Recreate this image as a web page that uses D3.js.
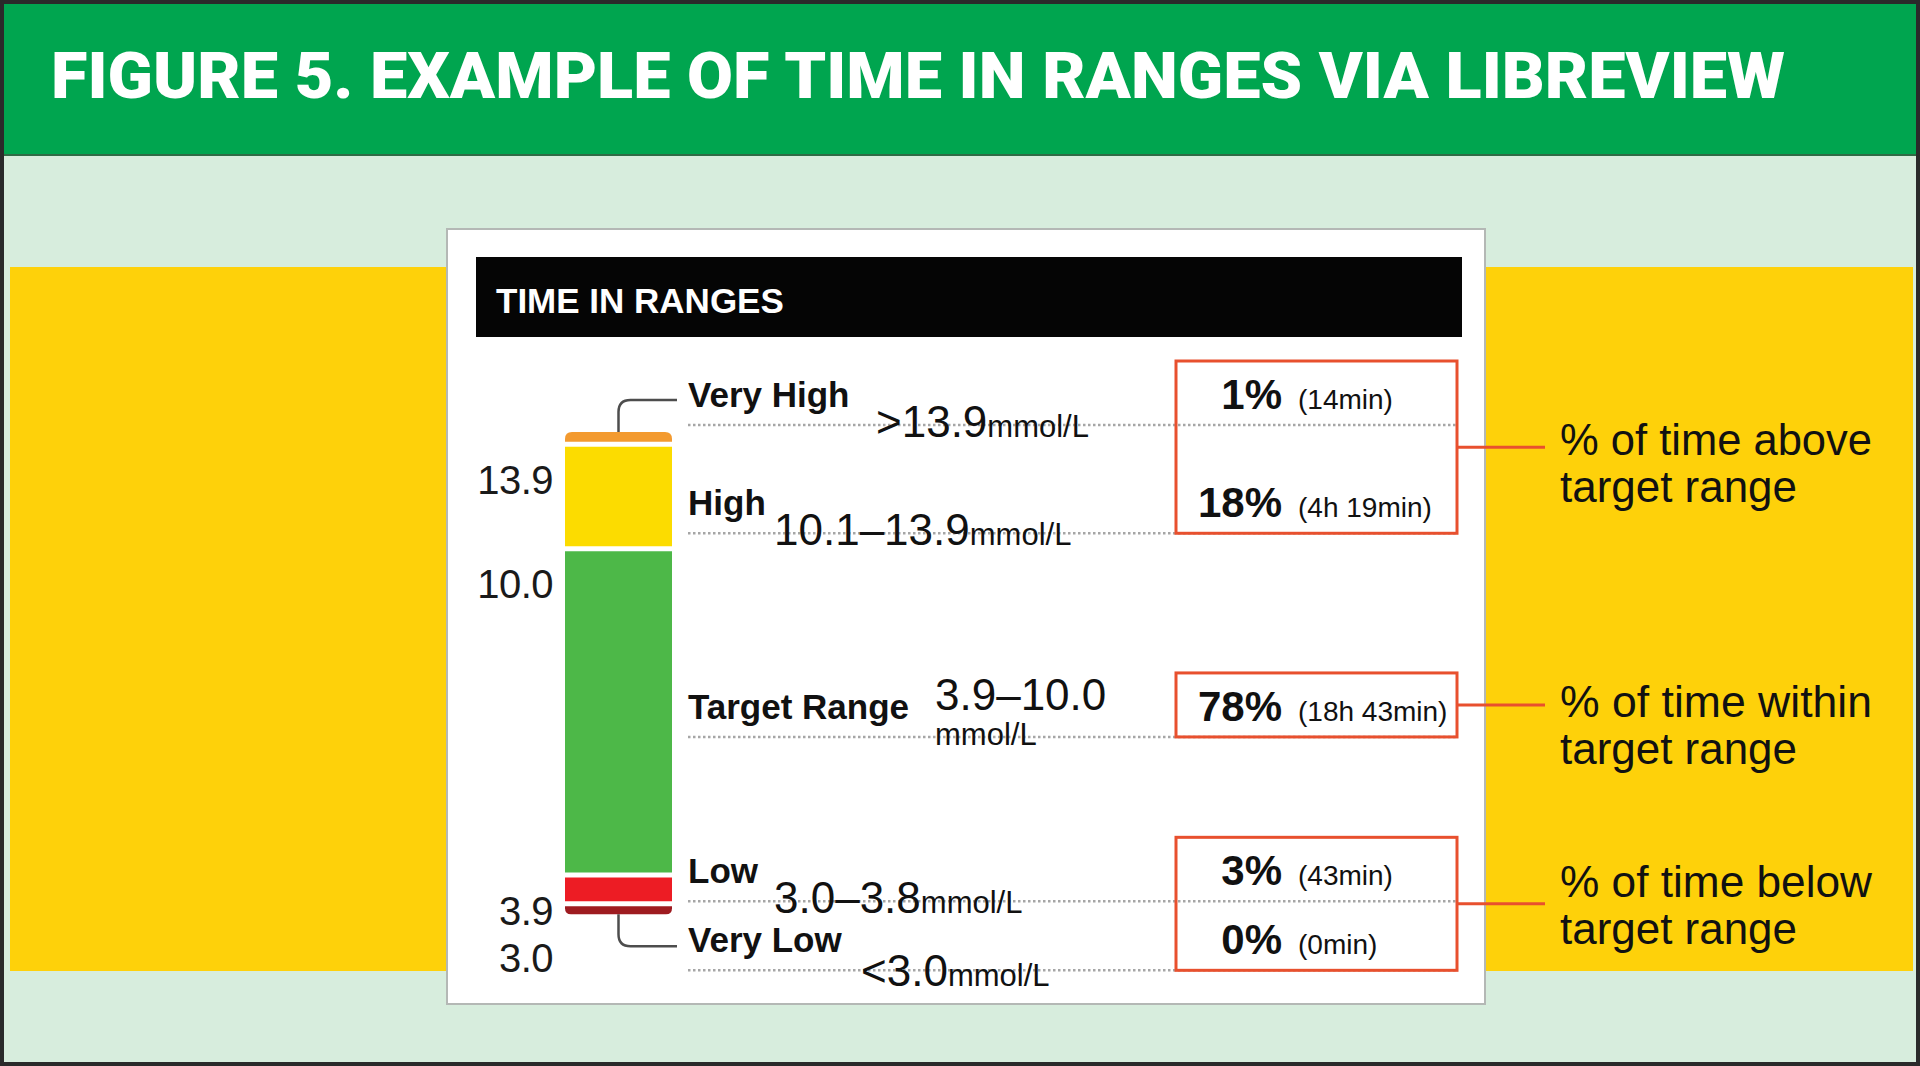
<!DOCTYPE html>
<html>
<head>
<meta charset="utf-8">
<script src="https://cdn.jsdelivr.net/npm/d3@7/dist/d3.min.js"></script>
<style>
  html, body { margin: 0; padding: 0; background: #ffffff; }
  svg { display: block; }
</style>
</head>
<body>
<svg id="chart" width="1920" height="1066"></svg>
<script>
// ---------------- DATA ----------------
const title = "FIGURE 5. EXAMPLE OF TIME IN RANGES VIA LIBREVIEW";
const panelTitle = "TIME IN RANGES";
const categories = ["Very High", "High", "Target Range", "Low", "Very Low"];
const rangeValues = [">13.9", "10.1–13.9", "3.9–10.0", "3.0–3.8", "<3.0"];
const unit = "mmol/L";
const percents = [1, 18, 78, 3, 0];
const durations = ["(14min)", "(4h 19min)", "(18h 43min)", "(43min)", "(0min)"];
const thresholds = ["13.9", "10.0", "3.9", "3.0"];
const groupLabels = [
  ["% of time above", "target range"],
  ["% of time within", "target range"],
  ["% of time below", "target range"]
];
const groupRows = [[0, 1], [2], [3, 4]];

// ---------------- STYLE / LAYOUT ----------------
const segColors = ["#f39a2f", "#fcdc00", "#4db848", "#ed1c24", "#9e1b20"];
const boxColor = "#e8502e";
const W = 1920, H = 1066;
const sans = "'Liberation Sans', Arial, sans-serif";

const svg = d3.select("#chart");

// background layers
svg.append("rect").attr("x", 0).attr("y", 0).attr("width", W).attr("height", H).attr("fill", "#d7eddd");
svg.append("rect").attr("x", 10).attr("y", 267).attr("width", 1903).attr("height", 704).attr("fill", "#fed10a");
svg.append("rect").attr("x", 0).attr("y", 0).attr("width", W).attr("height", 155).attr("fill", "#00a54f");
svg.append("line").attr("x1", 0).attr("x2", W).attr("y1", 155).attr("y2", 155).attr("stroke", "#2f6b45").attr("stroke-width", 2);
svg.append("rect").attr("x", 2).attr("y", 2).attr("width", W - 4).attr("height", H - 4)
  .attr("fill", "none").attr("stroke", "#2a2a2a").attr("stroke-width", 4);

svg.append("text").text(title)
  .attr("x", 51).attr("y", 98)
  .attr("font-family", "Roboto, 'DejaVu Sans', sans-serif").attr("font-weight", 900)
  .attr("font-size", 64).attr("fill", "#ffffff")
  .attr("textLength", 1734).attr("lengthAdjust", "spacingAndGlyphs");

// white panel
svg.append("rect").attr("x", 447).attr("y", 229).attr("width", 1038).attr("height", 775)
  .attr("fill", "#ffffff").attr("stroke", "#b4b8b5").attr("stroke-width", 2);
svg.append("rect").attr("x", 476).attr("y", 257).attr("width", 986).attr("height", 80).attr("fill", "#050505");
svg.append("text").text(panelTitle)
  .attr("x", 496).attr("y", 313)
  .attr("font-family", sans).attr("font-weight", 700).attr("font-size", 35).attr("fill", "#ffffff");

// ---------------- STACKED BAR ----------------
const barX = 565, barW = 107, barTop = 432, gap = 5, minH = 8;
const hScale = d3.scalePow().exponent(0.8).domain([0, 100]).range([0, 392]);
const segs = [];
let cy = barTop;
percents.forEach((p, i) => {
  const h = Math.max(minH, hScale(p));
  segs.push({ i, y0: cy, y1: cy + h, h, mid: cy + h / 2 });
  cy += h + gap;
});
const barBottom = segs[segs.length - 1].y1;
const barCx = barX + barW / 2;

function segPath(s) {
  const x0 = barX, x1 = barX + barW;
  if (s.i === 0) {
    const r = Math.min(7, s.h);
    return `M${x0},${s.y1} L${x0},${s.y0 + r} Q${x0},${s.y0} ${x0 + r},${s.y0} L${x1 - r},${s.y0} Q${x1},${s.y0} ${x1},${s.y0 + r} L${x1},${s.y1} Z`;
  }
  if (s.i === segs.length - 1) {
    const r = Math.min(6, s.h);
    return `M${x0},${s.y0} L${x1},${s.y0} L${x1},${s.y1 - r} Q${x1},${s.y1} ${x1 - r},${s.y1} L${x0 + r},${s.y1} Q${x0},${s.y1} ${x0},${s.y1 - r} Z`;
  }
  return `M${x0},${s.y0} L${x1},${s.y0} L${x1},${s.y1} L${x0},${s.y1} Z`;
}
svg.append("g").selectAll("path").data(segs).join("path")
  .attr("d", segPath).attr("fill", d => segColors[d.i]);

// threshold labels at segment boundaries
let lastY = -Infinity;
thresholds.forEach((t, i) => {
  let y = segs[i].y1 + 52;
  y = Math.max(y, lastY + 47);
  lastY = y;
  svg.append("text").text(t)
    .attr("x", 553).attr("y", y).attr("text-anchor", "end")
    .attr("font-family", sans).attr("font-size", 40).attr("letter-spacing", -0.5).attr("fill", "#1a1a1a");
});

// ---------------- ROWS ----------------
const rowLine = [
  barTop - 7,
  segs[1].y1 - 13,
  segs[2].mid + 25,
  segs[3].y1,
  barBottom + 56
];
const rangeX = [876, 774, 935, 774, 861];
const lineX0 = 688, lineX1 = 1457;
const boxX0 = 1176, boxX1 = 1457;

// dotted lines
svg.append("g").selectAll("line").data(rowLine).join("line")
  .attr("x1", lineX0).attr("x2", lineX1).attr("y1", d => d).attr("y2", d => d)
  .attr("stroke", "#a6a6a6").attr("stroke-width", 2.5).attr("stroke-dasharray", "2.5,2.5");

// connectors from bar ends to outer labels
const conn = d3.path();
conn.moveTo(barCx, barTop);
conn.lineTo(barCx, rowLine[0] - 13);
conn.quadraticCurveTo(barCx, rowLine[0] - 25, barCx + 12, rowLine[0] - 25);
conn.lineTo(677, rowLine[0] - 25);
conn.moveTo(barCx, barBottom);
conn.lineTo(barCx, rowLine[4] - 36);
conn.quadraticCurveTo(barCx, rowLine[4] - 24, barCx + 12, rowLine[4] - 24);
conn.lineTo(677, rowLine[4] - 24);
svg.append("path").attr("d", conn.toString()).attr("fill", "none")
  .attr("stroke", "#4d4d4d").attr("stroke-width", 2.5);

// category labels
svg.append("g").selectAll("text").data(categories).join("text")
  .text(d => d)
  .attr("x", lineX0).attr("y", (d, i) => rowLine[i] - 18)
  .attr("font-family", sans).attr("font-weight", 700).attr("font-size", 35).attr("fill", "#111");

// range values
rangeValues.forEach((r, i) => {
  if (i === 2) {
    svg.append("text").text(r).attr("x", rangeX[i]).attr("y", rowLine[i] - 27)
      .attr("font-family", sans).attr("font-size", 44).attr("fill", "#111");
    svg.append("text").text(unit).attr("x", rangeX[i]).attr("y", rowLine[i] + 8)
      .attr("font-family", sans).attr("font-size", 31).attr("fill", "#111");
  } else {
    const t = svg.append("text").attr("x", rangeX[i]).attr("y", rowLine[i] + (i === 4 ? 16 : 12))
      .attr("font-family", sans).attr("fill", "#111");
    t.append("tspan").text(r).attr("font-size", 44);
    t.append("tspan").text(unit).attr("font-size", 31);
  }
});

// percentages and durations
svg.append("g").selectAll("text").data(percents).join("text")
  .text(d => d + "%")
  .attr("x", 1282).attr("y", (d, i) => rowLine[i] - 16).attr("text-anchor", "end")
  .attr("font-family", sans).attr("font-weight", 700).attr("font-size", 42).attr("fill", "#111");
svg.append("g").selectAll("text").data(durations).join("text")
  .text(d => d)
  .attr("x", 1298).attr("y", (d, i) => rowLine[i] - 16)
  .attr("font-family", sans).attr("font-size", 28).attr("fill", "#111");

// group boxes, connectors and labels
const labelDy = [8, 12, -7];
groupRows.forEach((rows, g) => {
  const top = rowLine[rows[0]] - 64;
  const bottom = rowLine[rows[rows.length - 1]];
  svg.append("rect").attr("x", boxX0).attr("y", top).attr("width", boxX1 - boxX0).attr("height", bottom - top)
    .attr("fill", "none").attr("stroke", boxColor).attr("stroke-width", 3);
  const mid = (top + bottom) / 2;
  svg.append("line").attr("x1", boxX1).attr("x2", 1545).attr("y1", mid).attr("y2", mid)
    .attr("stroke", boxColor).attr("stroke-width", 3);
  groupLabels[g].forEach((l, k) => {
    svg.append("text").text(l)
      .attr("x", 1560).attr("y", mid + labelDy[g] + k * 47)
      .attr("font-family", sans).attr("font-size", 44).attr("fill", "#111")
      .attr("textLength", k === 0 ? 312 : 237).attr("lengthAdjust", "spacingAndGlyphs");
  });
});
</script>
</body>
</html>
